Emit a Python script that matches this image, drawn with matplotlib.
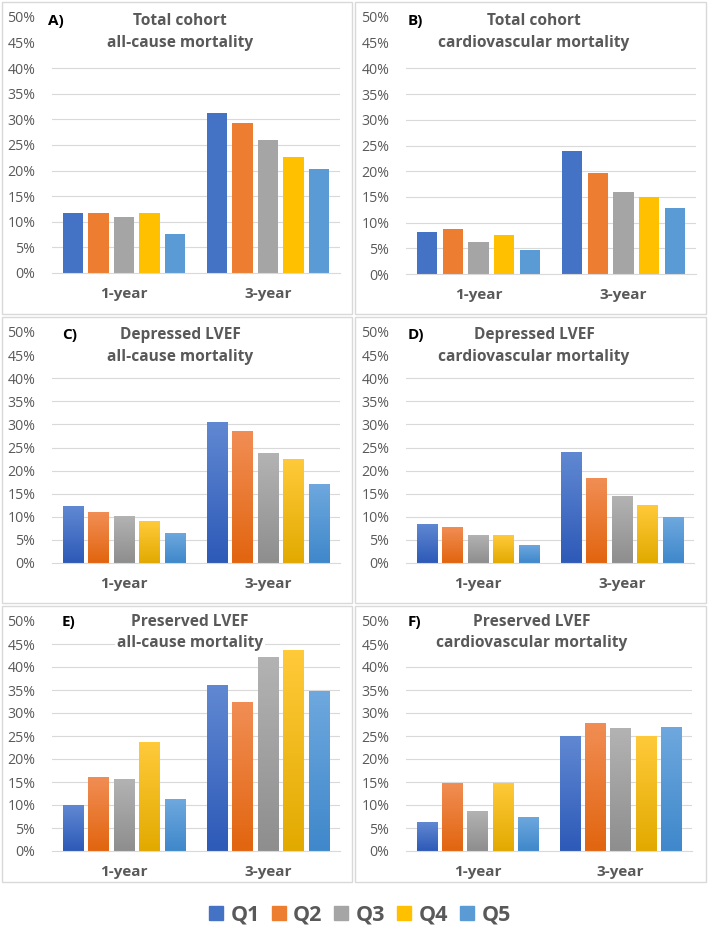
import matplotlib
matplotlib.use("Agg")
import matplotlib.pyplot as plt
import numpy as np
from matplotlib.patches import Rectangle
from matplotlib.colors import LinearSegmentedColormap

plt.rcParams['font.family'] = ['Open Sans', 'DejaVu Sans']

categories = ["1-year", "3-year"]
series = ["Q1", "Q2", "Q3", "Q4", "Q5"]
colors = ["#4472C4", "#ED7D31", "#A5A5A5", "#FFC000", "#5B9BD5"]
grad_top = ["#6088D2", "#F18E55", "#B3B3B3", "#FFCA3A", "#6EA8DE"]
grad_bot = ["#2E5AB8", "#E2650F", "#8E8E8E", "#E2AA00", "#3F88CB"]

panel_letters = ["A)", "B)", "C)", "D)", "E)", "F)"]
panel_titles = [
    "Total cohort\nall-cause mortality",
    "Total cohort\ncardiovascular mortality",
    "Depressed LVEF\nall-cause mortality",
    "Depressed LVEF\ncardiovascular mortality",
    "Preserved LVEF\nall-cause mortality",
    "Preserved LVEF\ncardiovascular mortality",
]
# values in %: [series][category]
A_vals = [[11.8, 31.2], [11.7, 29.3], [10.9, 25.9], [11.7, 22.6], [7.7, 20.4]]
B_vals = [[8.1, 23.9], [8.7, 19.7], [6.3, 16.0], [7.5, 15.0], [4.7, 12.9]]
C_vals = [[12.3, 30.6], [11.0, 28.6], [10.2, 23.8], [9.0, 22.6], [6.6, 17.2]]
D_vals = [[8.5, 24.1], [7.9, 18.5], [6.1, 14.6], [6.0, 12.6], [4.0, 9.9]]
E_vals = [[9.9, 36.0], [16.1, 32.4], [15.7, 42.2], [23.6, 43.8], [11.2, 34.8]]
F_vals = [[6.3, 25.0], [14.8, 27.9], [8.8, 26.8], [14.8, 25.0], [7.4, 27.0]]
all_vals = [A_vals, B_vals, C_vals, D_vals, E_vals, F_vals]
yticks = [0, 5, 10, 15, 20, 25, 30, 35, 40, 45, 50]

W, H = 708, 927
fig = plt.figure(figsize=(W / 100, H / 100), dpi=100)

def px_rect(x0, y0, x1, y1):
    return [x0 / W, 1 - y1 / H, (x1 - x0) / W, (y1 - y0) / H]

# panel borders (pixel coords)
borders = [(2, 2, 352, 314), (355, 2, 706, 314),
           (2, 317, 352, 603), (355, 317, 706, 603),
           (2, 606, 352, 882), (355, 606, 706, 882)]
for (x0, y0, x1, y1) in borders:
    fig.patches.append(Rectangle((x0 / W, 1 - y1 / H), (x1 - x0) / W, (y1 - y0) / H,
                                 transform=fig.transFigure, fill=False,
                                 edgecolor="#D9D9D9", linewidth=1.0))

axes_px = [(52, 17, 340, 273), (406, 17, 696, 274),
           (52, 332, 340, 563), (406, 332, 694, 563),
           (52, 621, 340, 851), (406, 621, 692, 851)]
title_y = [(21, 43), (21, 43), (335, 357), (335, 357), (622, 643), (622, 643)]
title_x = [180, 534, 180, 534, 190, 532]
letter_x = [48, 408, 62, 408, 62, 408]
grid_max = [40, 40, 40, 40, 45, 40]

bw = 0.142
step = 0.177
x = np.arange(len(categories))
TXT = "#595959"

for k in range(6):
    ax = fig.add_axes(px_rect(*axes_px[k]))
    vals = all_vals[k]
    gradient = k >= 2
    for j in range(5):
        bars = ax.bar(x + (j - 2) * step, vals[j], width=bw, color=colors[j],
                      zorder=3, linewidth=0)
        if gradient:
            cmap = LinearSegmentedColormap.from_list("g", [grad_bot[j], grad_top[j]])
            for b in bars:
                b.set_facecolor("none")
                gimg = np.linspace(0, 1, 64).reshape(-1, 1)
                im = ax.imshow(gimg, cmap=cmap, origin="lower", aspect="auto",
                               extent=[b.get_x(), b.get_x() + b.get_width(), 0, b.get_height()],
                               zorder=3)
                im.set_clip_path(b)
    for t in yticks:
        if 0 < t <= grid_max[k]:
            ax.axhline(t, color="#D9D9D9", linewidth=0.8, zorder=1)
    ax.set_xlim(-0.5, 1.5)
    ax.set_ylim(0, 50)
    ax.set_yticks(yticks)
    ax.set_yticklabels([f"{t}%" for t in yticks], fontsize=10.2, color=TXT)
    ax.set_xticks(x)
    ax.set_xticklabels(categories, fontsize=11, fontweight="bold", color=TXT)
    ax.tick_params(axis="y", length=0, pad=12)
    ax.tick_params(axis="x", length=0, pad=10)
    for s in ["top", "right", "left"]:
        ax.spines[s].set_visible(False)
    ax.spines["bottom"].set_color("#D9D9D9")
    ax.spines["bottom"].set_linewidth(0.8)
    ax.spines["bottom"].set_zorder(4)
    # title
    l1, l2 = panel_titles[k].split("\n")
    ty1, ty2 = title_y[k]
    for line, ty in ((l1, ty1), (l2, ty2)):
        fig.text(title_x[k] / W, 1 - ty / H, line, ha="center", va="center",
                 fontsize=11.2, fontweight="bold", color=TXT,
                 bbox=dict(facecolor="white", edgecolor="none", pad=1.5), zorder=5)
    fig.text(letter_x[k] / W, 1 - ty1 / H, panel_letters[k], ha="left", va="center",
             fontsize=11, fontweight="bold", color="black")

handles = [Rectangle((0, 0), 1, 1, color=c) for c in colors]
leg = fig.legend(handles, series, loc="center", bbox_to_anchor=(360 / W, 1 - 915 / H),
                 ncol=5, frameon=False, handlelength=0.65, handleheight=0.65,
                 handletextpad=0.35, columnspacing=0.55,
                 prop={"size": 15.5, "weight": "bold"})
for t in leg.get_texts():
    t.set_color(TXT)

fig.savefig("out.png", dpi=100, facecolor="white")
